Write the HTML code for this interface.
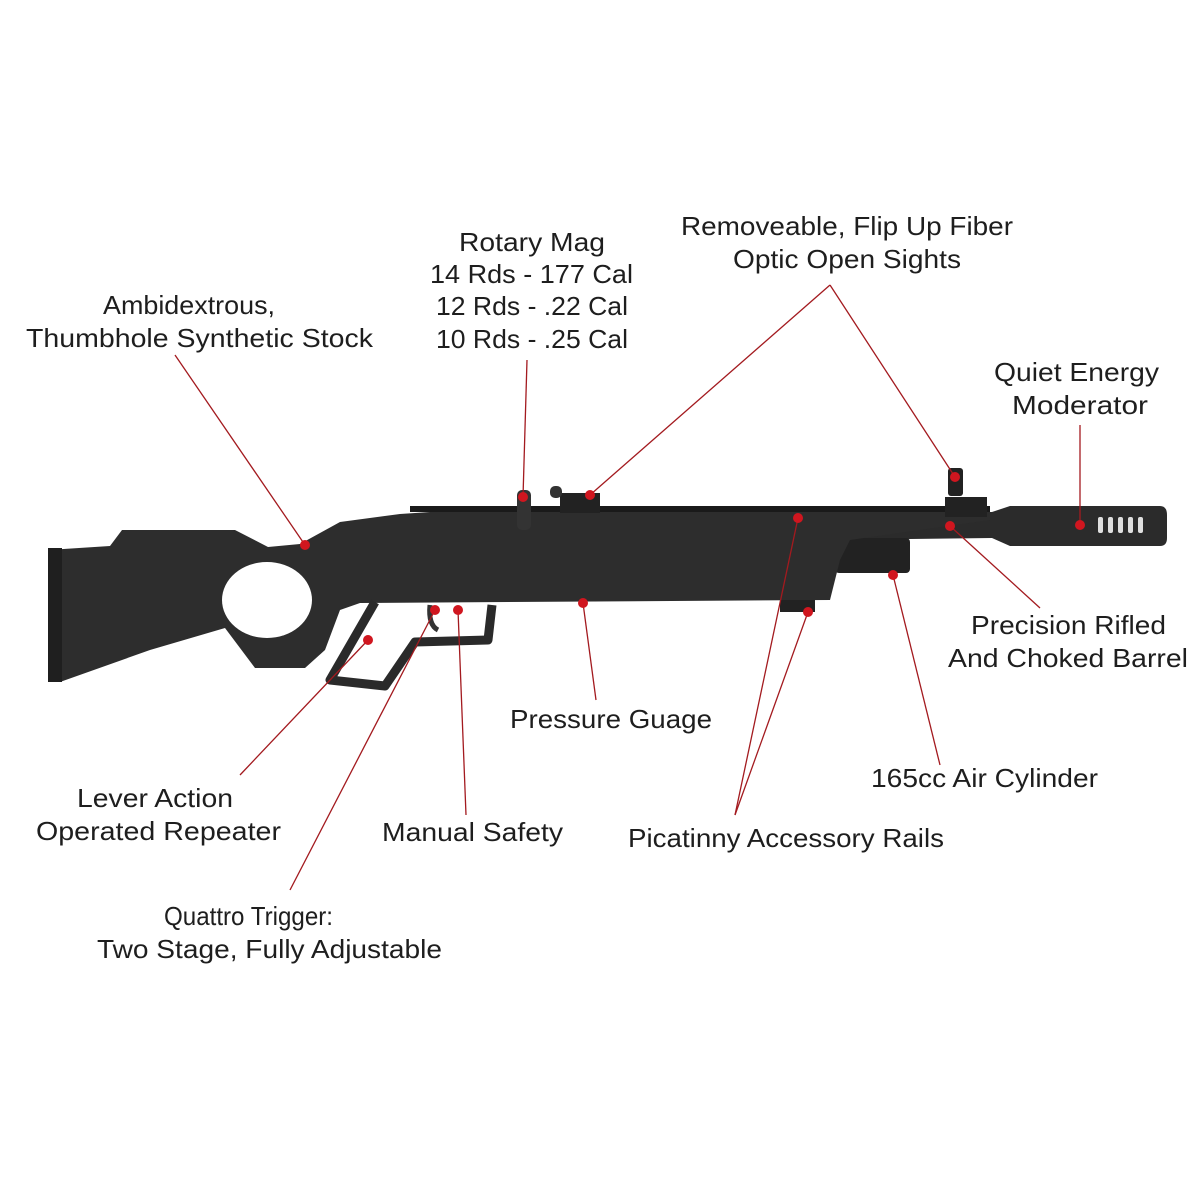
<!DOCTYPE html>
<html><head><style>
html,body{margin:0;padding:0;background:#fff;}
svg{display:block}
text{font-family:"Liberation Sans",sans-serif;font-size:26px;fill:#1e1e1e;}
</style></head><body>
<svg width="1200" height="1200" viewBox="0 0 1200 1200">
<!-- moderator & barrel -->
<path d="M820 512 L992 512 L1010 506 L1160 506 Q1167 506 1167 515 L1167 538 Q1167 546 1160 546 L1010 546 L992 538 L820 540 Z" fill="#2b2b2b"/>
<g fill="#fff" opacity="0.85">
<rect x="1098" y="517" width="5" height="16" rx="2"/><rect x="1108" y="517" width="5" height="16" rx="2"/><rect x="1118" y="517" width="5" height="16" rx="2"/><rect x="1128" y="517" width="5" height="16" rx="2"/><rect x="1138" y="517" width="5" height="16" rx="2"/>
</g>
<!-- cylinder -->
<rect x="835" y="538" width="75" height="35" rx="4" fill="#222"/>
<!-- main stock/receiver -->
<path d="M48 550 L110 546 L122 530 L235 530 L268 547 L300 544 L340 522 L400 514 L460 510 L990 510 L990 520 L850 540 L840 560 L830 600 L360 603 L340 610 L325 650 L305 668 L255 668 L225 628 L150 650 L60 682 L48 678 Z" fill="#2d2d2d"/>
<ellipse cx="267" cy="600" rx="45" ry="38" fill="#fff"/>
<!-- butt pad -->
<rect x="48" y="548" width="14" height="134" fill="#1f1f1f"/>
<!-- rail teeth -->
<g fill="#1a1a1a">
<rect x="410" y="506" width="580" height="6"/>
</g>
<!-- sights -->
<rect x="517" y="490" width="14" height="40" rx="5" fill="#333"/>
<rect x="560" y="493" width="40" height="20" fill="#222"/>
<rect x="550" y="486" width="12" height="12" rx="5" fill="#333"/>
<rect x="948" y="468" width="15" height="28" rx="3" fill="#222"/>
<rect x="945" y="497" width="42" height="20" fill="#222"/>
<!-- fore rail -->
<rect x="780" y="600" width="35" height="12" fill="#222"/>
<!-- lever loop and trigger guard -->
<path d="M375 602 L330 680 L385 686 L415 642 L488 640 L492 605" fill="none" stroke="#2a2a2a" stroke-width="9" stroke-linejoin="round"/>
<path d="M430 605 Q428 625 438 630" fill="none" stroke="#333" stroke-width="5"/>
<!-- leader lines -->
<g stroke="#a31a1f" stroke-width="1.3" fill="none">
<line x1="175" y1="355" x2="305" y2="545"/>
<line x1="527" y1="360" x2="523" y2="497"/>
<line x1="830" y1="285" x2="590" y2="495"/>
<line x1="830" y1="285" x2="955" y2="477"/>
<line x1="1080" y1="425" x2="1080" y2="525"/>
<line x1="1040" y1="608" x2="950" y2="526"/>
<line x1="940" y1="765" x2="893" y2="575"/>
<line x1="735" y1="815" x2="798" y2="518"/>
<line x1="735" y1="815" x2="808" y2="612"/>
<line x1="596" y1="700" x2="583" y2="603"/>
<line x1="466" y1="815" x2="458" y2="610"/>
<line x1="240" y1="775" x2="368" y2="640"/>
<line x1="290" y1="890" x2="435" y2="610"/>
</g>
<g fill="#d0161f">
<circle cx="305" cy="545" r="5"/><circle cx="523" cy="497" r="5"/><circle cx="590" cy="495" r="5"/><circle cx="955" cy="477" r="5"/>
<circle cx="1080" cy="525" r="5"/><circle cx="950" cy="526" r="5"/><circle cx="893" cy="575" r="5"/><circle cx="798" cy="518" r="5"/>
<circle cx="808" cy="612" r="5"/><circle cx="583" cy="603" r="5"/><circle cx="458" cy="610" r="5"/><circle cx="368" cy="640" r="5"/><circle cx="435" cy="610" r="5"/>
</g>
<!-- labels -->
<text x="103" y="314" textLength="172" lengthAdjust="spacingAndGlyphs">Ambidextrous,</text>
<text x="26" y="347" textLength="347" lengthAdjust="spacingAndGlyphs">Thumbhole Synthetic Stock</text>
<text x="459" y="251" textLength="146" lengthAdjust="spacingAndGlyphs">Rotary Mag</text>
<text x="430" y="283" textLength="203" lengthAdjust="spacingAndGlyphs">14 Rds - 177 Cal</text>
<text x="436" y="315" textLength="192" lengthAdjust="spacingAndGlyphs">12 Rds - .22 Cal</text>
<text x="436" y="348" textLength="192" lengthAdjust="spacingAndGlyphs">10 Rds - .25 Cal</text>
<text x="681" y="235" textLength="332" lengthAdjust="spacingAndGlyphs">Removeable, Flip Up Fiber</text>
<text x="733" y="268" textLength="228" lengthAdjust="spacingAndGlyphs">Optic Open Sights</text>
<text x="994" y="381" textLength="165" lengthAdjust="spacingAndGlyphs">Quiet Energy</text>
<text x="1012" y="414" textLength="136" lengthAdjust="spacingAndGlyphs">Moderator</text>
<text x="971" y="634" textLength="195" lengthAdjust="spacingAndGlyphs">Precision Rifled</text>
<text x="948" y="667" textLength="240" lengthAdjust="spacingAndGlyphs">And Choked Barrel</text>
<text x="510" y="728" textLength="202" lengthAdjust="spacingAndGlyphs">Pressure Guage</text>
<text x="871" y="787" textLength="227" lengthAdjust="spacingAndGlyphs">165cc Air Cylinder</text>
<text x="77" y="807" textLength="156" lengthAdjust="spacingAndGlyphs">Lever Action</text>
<text x="36" y="840" textLength="245" lengthAdjust="spacingAndGlyphs">Operated Repeater</text>
<text x="382" y="841" textLength="181" lengthAdjust="spacingAndGlyphs">Manual Safety</text>
<text x="628" y="847" textLength="316" lengthAdjust="spacingAndGlyphs">Picatinny Accessory Rails</text>
<text x="164" y="925" textLength="169" lengthAdjust="spacingAndGlyphs">Quattro Trigger:</text>
<text x="97" y="958" textLength="345" lengthAdjust="spacingAndGlyphs">Two Stage, Fully Adjustable</text>
</svg>
</body></html>
